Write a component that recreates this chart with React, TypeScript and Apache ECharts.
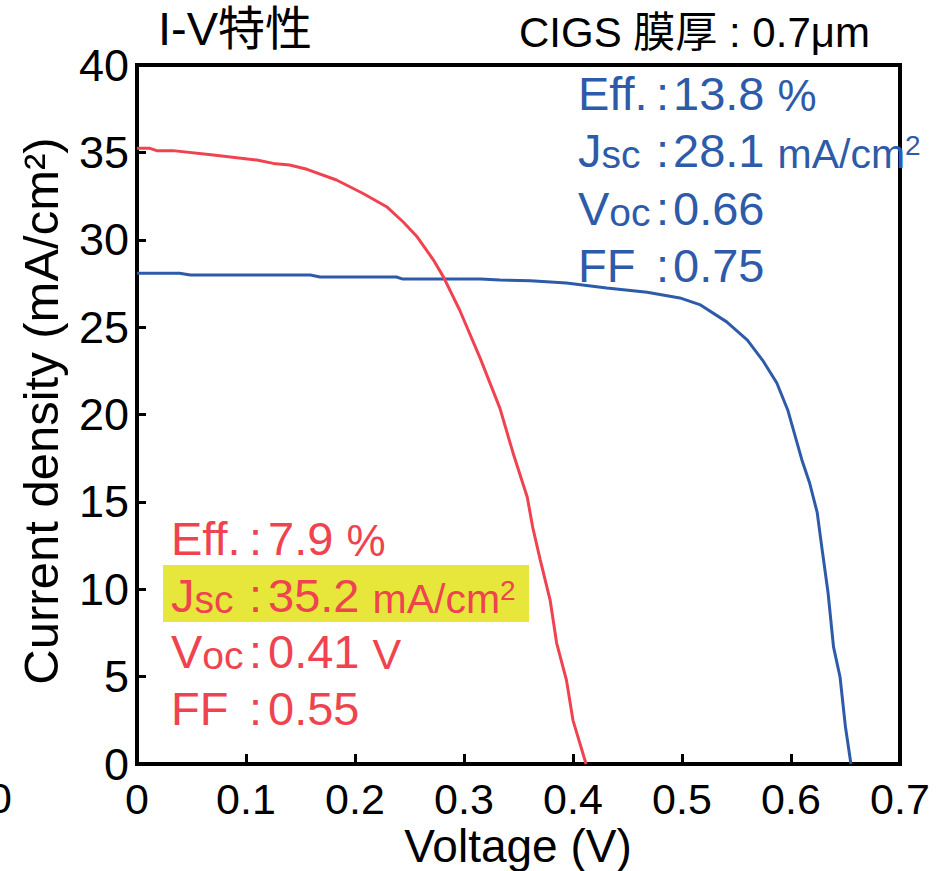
import React, { useEffect, useRef } from 'react';
import * as echarts from 'echarts';

// ---- data ----
const blueVoltage = [0, 0.039, 0.049, 0.159, 0.168, 0.238, 0.244, 0.315, 0.333, 0.361, 0.394, 0.431, 0.468, 0.498, 0.517, 0.541, 0.56, 0.574, 0.587, 0.597, 0.61, 0.617, 0.624, 0.629, 0.634, 0.639, 0.645, 0.65, 0.655];
const blueCurrent = [28.08, 28.08, 27.98, 27.98, 27.87, 27.87, 27.75, 27.75, 27.7, 27.66, 27.52, 27.24, 27.0, 26.67, 26.27, 25.3, 24.26, 23.1, 21.8, 20.26, 17.4, 16.1, 14.4, 12.07, 9.8, 6.7, 4.98, 2.1, 0];
const redVoltage = [0, 0.012, 0.018, 0.033, 0.07, 0.11, 0.125, 0.14, 0.156, 0.183, 0.207, 0.229, 0.244, 0.257, 0.272, 0.281, 0.296, 0.315, 0.333, 0.345, 0.358, 0.363, 0.37, 0.379, 0.385, 0.394, 0.4, 0.412];
const redCurrent = [35.23, 35.23, 35.1, 35.1, 34.85, 34.56, 34.37, 34.28, 34.03, 33.42, 32.66, 31.89, 31.03, 30.17, 28.84, 27.89, 25.98, 23.2, 20.35, 17.8, 15.28, 13.56, 11.67, 9.38, 6.92, 4.8, 2.5, 0];

const statLabels = ['Eff.', 'J', 'V', 'FF'];
const statSubs = ['', 'sc', 'oc', ''];
const blueStatValues = ['13.8', '28.1', '0.66', '0.75'];
const blueStatUnits = ['%', 'mA/cm', '', ''];
const blueStatSups = ['', '2', '', ''];
const redStatValues = ['7.9', '35.2', '0.41', '0.55'];
const redStatUnits = ['%', 'mA/cm', 'V', ''];
const redStatSups = ['', '2', '', ''];

const titleText = 'I-V特性';
const subtitleText = 'CIGS 膜厚 : 0.7μm';
const xAxisTitle = 'Voltage (V)';
const yAxisTitle = 'Current density (mA/cm²)';

const FONT = '"Liberation Sans", Arial, Helvetica, sans-serif';
const CJK = '"Liberation Sans", Arial, "Noto Sans CJK JP", sans-serif';
const BLUE = '#2e5ba9';
const RED = '#ef4350';

const MAIN = 47;
const SMALL = 39;
const UNIT = 41;

function statBlock(
  x0: number, colonX: number, valueX: number, baselines: number[],
  values: string[], units: string[], sups: string[], color: string
) {
  const els: any[] = [];
  const tok = (size: number, lh: number, va: string) => ({
    fontSize: size, lineHeight: lh, verticalAlign: va, fill: color, fontFamily: FONT,
  });
  baselines.forEach((b, i) => {
    const bottom = b + 0.1535 * MAIN;
    let label = `{b|${statLabels[i]}}`;
    if (statSubs[i]) label += `{s|${statSubs[i]}}`;
    els.push({
      type: 'text', x: x0, y: bottom, z: 10,
      style: {
        text: label, align: 'left', verticalAlign: 'bottom', fill: color, fontFamily: FONT,
        rich: { b: tok(MAIN, MAIN, 'bottom'), s: tok(SMALL, SMALL, 'bottom') },
      },
    });
    els.push({
      type: 'text', x: colonX, y: bottom, z: 10,
      style: {
        text: '{b|:}', align: 'left', verticalAlign: 'bottom', fill: color, fontFamily: FONT,
        rich: { b: tok(MAIN, MAIN, 'bottom') },
      },
    });
    let val = `{v|${values[i]}${units[i] ? ' ' : ''}}`;
    if (units[i]) val += `{u|${units[i]}}`;
    if (sups[i]) val += `{p|${sups[i]}}`;
    const us = units[i] === '%' ? 44 : units[i] === 'V' ? 43 : UNIT;
    els.push({
      type: 'text', x: valueX, y: bottom, z: 10,
      style: {
        text: val, align: 'left', verticalAlign: 'bottom', fill: color, fontFamily: FONT,
        rich: {
          v: tok(MAIN, MAIN, 'bottom'),
          u: tok(us, us, 'bottom'),
          p: { ...tok(28, 28, 'bottom'), padding: [0, 0, 15, 0] },
        },
      },
    });
  });
  return els;
}

export default function App() {
  const ref = useRef<HTMLDivElement>(null);
  useEffect(() => {
    if (!ref.current) return;
    const chart = echarts.init(ref.current, undefined, { renderer: 'svg' });
    const graphic: any[] = [
      { type: 'rect', z: -1, shape: { x: 163, y: 565, width: 366, height: 57 }, style: { fill: '#e7e73b' } },
      { type: 'text', x: 158, y: 28, style: { text: titleText, fontSize: 47, fontFamily: CJK, fill: '#000', align: 'left', verticalAlign: 'middle' } },
      { type: 'text', x: 519, y: 32, style: { text: subtitleText, fontSize: 42, fontFamily: CJK, fill: '#000', align: 'left', verticalAlign: 'middle' } },
      { type: 'text', x: 41, y: 411, rotation: Math.PI / 2, style: { text: yAxisTitle, fontSize: 49, fontFamily: FONT, fill: '#000', align: 'center', verticalAlign: 'middle' } },
      { type: 'text', x: 518, y: 846, style: { text: xAxisTitle, fontSize: 46, fontFamily: FONT, fill: '#000', align: 'center', verticalAlign: 'middle' } },
      { type: 'text', x: 12, y: 798, style: { text: '0', fontSize: 43, fontFamily: FONT, fill: '#000', align: 'right', verticalAlign: 'middle' } },
      ...statBlock(578, 656, 673, [110, 167, 225, 282], blueStatValues, blueStatUnits, blueStatSups, BLUE),
      ...statBlock(171, 249, 268, [555, 612, 668, 725], redStatValues, redStatUnits, redStatSups, RED),
    ];
    chart.setOption({
      animation: false,
      grid: { left: 137, right: 48, top: 65, bottom: 107, show: true, borderColor: '#000', borderWidth: 4, outerBoundsMode: 'none' },
      xAxis: {
        type: 'value', min: 0, max: 0.7, interval: 0.1,
        axisLine: { show: true, onZero: false, lineStyle: { color: '#000', width: 4 } },
        axisTick: { show: true, inside: true, length: 10, lineStyle: { color: '#000', width: 3 } },
        axisLabel: { color: '#000', fontSize: 43, fontFamily: FONT, margin: 13 },
        splitLine: { show: false },
      },
      yAxis: {
        type: 'value', min: 0, max: 40, interval: 5,
        axisLine: { show: true, onZero: false, lineStyle: { color: '#000', width: 4 } },
        axisTick: { show: true, inside: true, length: 9, lineStyle: { color: '#000', width: 3 } },
        axisLabel: { color: '#000', fontSize: 45, fontFamily: FONT, margin: 8 },
        splitLine: { show: false },
      },
      series: [
        {
          type: 'line', data: blueVoltage.map((v, i) => [v, blueCurrent[i]]),
          symbol: 'none', showSymbol: false, lineStyle: { color: BLUE, width: 3 }, z: 3,
        },
        {
          type: 'line', data: redVoltage.map((v, i) => [v, redCurrent[i]]),
          symbol: 'none', showSymbol: false, lineStyle: { color: RED, width: 3 }, z: 3,
        },
      ],
      graphic,
    });
    return () => chart.dispose();
  }, []);
  return (
    <div
      ref={ref}
      style={{ position: 'absolute', left: 0, top: 0, width: 948, height: 871, background: '#fff' }}
    />
  );
}
